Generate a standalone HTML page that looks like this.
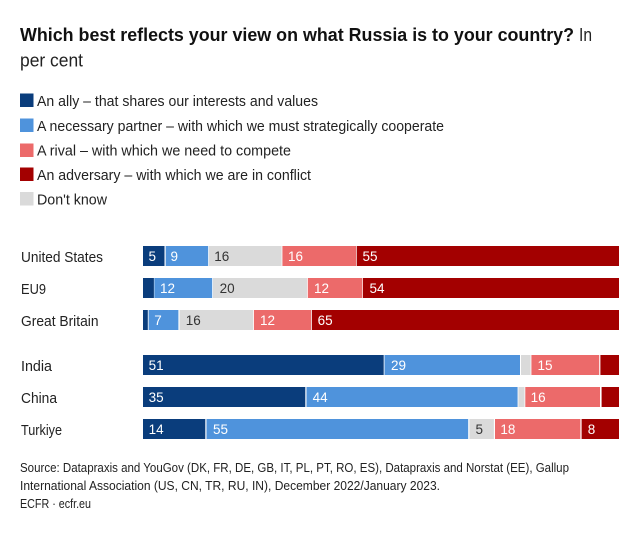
<!DOCTYPE html>
<html><head><meta charset="utf-8"><style>
html,body{margin:0;padding:0;background:#fff;}
svg{display:block;}
text{font-family:"Liberation Sans",Arial,sans-serif;}
</style></head><body>
<svg width="640" height="533" viewBox="0 0 640 533" xmlns="http://www.w3.org/2000/svg">
<rect width="640" height="533" fill="#fff"/>
<!-- Title -->
<text x="20" y="41" font-size="18.5" font-weight="bold" fill="#111" textLength="554" lengthAdjust="spacingAndGlyphs">Which best reflects your view on what Russia is to your country?</text>
<text x="579" y="41" font-size="18.5" fill="#222" textLength="13" lengthAdjust="spacingAndGlyphs">In</text>
<text x="20" y="66.5" font-size="18.5" fill="#222" textLength="63" lengthAdjust="spacingAndGlyphs">per cent</text>
<!-- Legend -->
<rect x="20" y="93.5" width="13.5" height="13.5" fill="#0a3d7c"/>
<text x="37" y="106" font-size="15" fill="#222" textLength="281" lengthAdjust="spacingAndGlyphs">An ally – that shares our interests and values</text>
<rect x="20" y="118.5" width="13.5" height="13.5" fill="#4f93dc"/>
<text x="37" y="131" font-size="15" fill="#222" textLength="407" lengthAdjust="spacingAndGlyphs">A necessary partner – with which we must strategically cooperate</text>
<rect x="20" y="143.5" width="13.5" height="13.5" fill="#ec6a6a"/>
<text x="37" y="155.5" font-size="15" fill="#222" textLength="254" lengthAdjust="spacingAndGlyphs">A rival – with which we need to compete</text>
<rect x="20" y="167.5" width="13.5" height="13.5" fill="#a30000"/>
<text x="37" y="180" font-size="15" fill="#222" textLength="274" lengthAdjust="spacingAndGlyphs">An adversary – with which we are in conflict</text>
<rect x="20" y="192" width="13.5" height="13.5" fill="#dadada"/>
<text x="37" y="204.5" font-size="15" fill="#222" textLength="70" lengthAdjust="spacingAndGlyphs">Don't know</text>

<!-- Country labels -->
<g font-size="15" fill="#222">
<text x="21" y="262" textLength="82" lengthAdjust="spacingAndGlyphs">United States</text>
<text x="21" y="294" textLength="25" lengthAdjust="spacingAndGlyphs">EU9</text>
<text x="21" y="326" textLength="77.5" lengthAdjust="spacingAndGlyphs">Great Britain</text>
<text x="21" y="371" textLength="31" lengthAdjust="spacingAndGlyphs">India</text>
<text x="21" y="403" textLength="36" lengthAdjust="spacingAndGlyphs">China</text>
<text x="21" y="435" textLength="41" lengthAdjust="spacingAndGlyphs">Turkiye</text>
</g>

<!-- US -->
<g>
<rect x="143" y="246" width="21.5" height="20" fill="#0a3d7c"/>
<rect x="165.7" y="246" width="42.5" height="20" fill="#4f93dc"/>
<rect x="209" y="246" width="72.6" height="20" fill="#dadada"/>
<rect x="282.4" y="246" width="73.6" height="20" fill="#ec6a6a"/>
<rect x="356.7" y="246" width="262.3" height="20" fill="#a30000"/>
</g>
<!-- EU9 -->
<g>
<rect x="143" y="278" width="10.9" height="20" fill="#0a3d7c"/>
<rect x="154.3" y="278" width="57.9" height="20" fill="#4f93dc"/>
<rect x="213" y="278" width="94" height="20" fill="#dadada"/>
<rect x="307.8" y="278" width="54.6" height="20" fill="#ec6a6a"/>
<rect x="363" y="278" width="256" height="20" fill="#a30000"/>
</g>
<!-- GB -->
<g>
<rect x="143" y="310" width="4.8" height="20" fill="#0a3d7c"/>
<rect x="148.6" y="310" width="29.8" height="20" fill="#4f93dc"/>
<rect x="179.6" y="310" width="73.4" height="20" fill="#dadada"/>
<rect x="253.9" y="310" width="57.1" height="20" fill="#ec6a6a"/>
<rect x="311.8" y="310" width="307.2" height="20" fill="#a30000"/>
</g>
<!-- India -->
<g>
<rect x="143" y="355" width="240.7" height="20" fill="#0a3d7c"/>
<rect x="384.5" y="355" width="135.5" height="20" fill="#4f93dc"/>
<rect x="521" y="355" width="9.6" height="20" fill="#dadada"/>
<rect x="531.4" y="355" width="67.8" height="20" fill="#ec6a6a"/>
<rect x="600.4" y="355" width="18.6" height="20" fill="#a30000"/>
</g>
<!-- China -->
<g>
<rect x="143" y="387" width="162.3" height="20" fill="#0a3d7c"/>
<rect x="306.5" y="387" width="211.1" height="20" fill="#4f93dc"/>
<rect x="518.4" y="387" width="6.1" height="20" fill="#dadada"/>
<rect x="525.3" y="387" width="74.7" height="20" fill="#ec6a6a"/>
<rect x="601.6" y="387" width="17.4" height="20" fill="#a30000"/>
</g>
<!-- Turkiye -->
<g>
<rect x="143" y="419" width="62.3" height="20" fill="#0a3d7c"/>
<rect x="206.5" y="419" width="261.7" height="20" fill="#4f93dc"/>
<rect x="469.4" y="419" width="24.5" height="20" fill="#dadada"/>
<rect x="495" y="419" width="85.4" height="20" fill="#ec6a6a"/>
<rect x="581.6" y="419" width="37.4" height="20" fill="#a30000"/>
</g>

<!-- Bar labels -->
<g font-size="13.5" fill="#fff">
<text x="148.5" y="261">5</text>
<text x="170.5" y="261">9</text>
<text x="288" y="261">16</text>
<text x="362.5" y="261">55</text>
<text x="160" y="293">12</text>
<text x="314" y="293">12</text>
<text x="369.5" y="293">54</text>
<text x="154.3" y="325">7</text>
<text x="260" y="325">12</text>
<text x="317.6" y="325">65</text>
<text x="148.6" y="370">51</text>
<text x="391" y="370">29</text>
<text x="537.5" y="370">15</text>
<text x="148.6" y="402">35</text>
<text x="312.6" y="402">44</text>
<text x="530.6" y="402">16</text>
<text x="148.6" y="434">14</text>
<text x="213" y="434">55</text>
<text x="500.4" y="434">18</text>
<text x="587.8" y="434">8</text>
</g>
<g font-size="13.5" fill="#333">
<text x="214.3" y="261">16</text>
<text x="219.6" y="293">20</text>
<text x="185.7" y="325">16</text>
<text x="475.5" y="434">5</text>
</g>

<!-- Footer -->
<g font-size="12.5" fill="#222">
<text x="20" y="472" textLength="549" lengthAdjust="spacingAndGlyphs">Source: Datapraxis and YouGov (DK, FR, DE, GB, IT, PL, PT, RO, ES), Datapraxis and Norstat (EE), Gallup</text>
<text x="20" y="490" textLength="420" lengthAdjust="spacingAndGlyphs">International Association (US, CN, TR, RU, IN), December 2022/January 2023.</text>
<text x="20" y="508" textLength="71" lengthAdjust="spacingAndGlyphs">ECFR · ecfr.eu</text>
</g>
</svg>
</body></html>
